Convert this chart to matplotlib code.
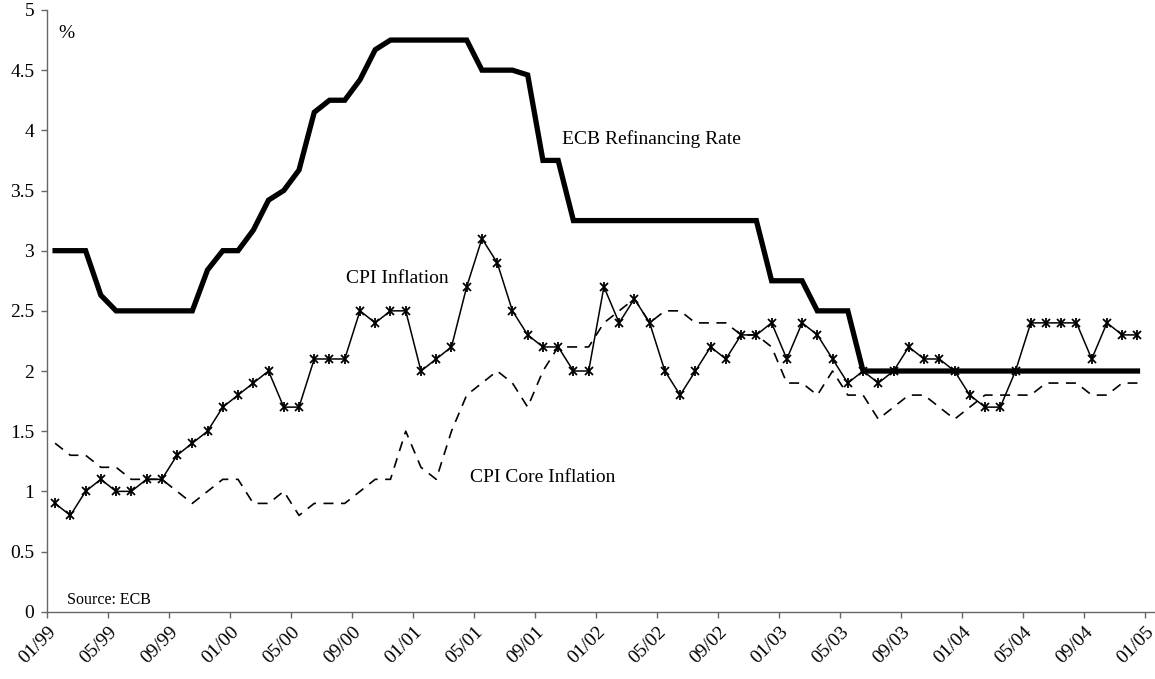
import numpy as np
import matplotlib
matplotlib.use("Agg")
import matplotlib.pyplot as plt

plt.rcParams['font.family'] = ['Liberation Serif', 'DejaVu Serif']

# monthly data, Jan 1999 - Dec 2004
ecb_rate = [3.0, 3.0, 3.0, 2.63, 2.5, 2.5, 2.5, 2.5, 2.5, 2.5, 2.84, 3.0,
            3.0, 3.17, 3.42, 3.5, 3.67, 4.15, 4.25, 4.25, 4.42, 4.67, 4.75, 4.75,
            4.75, 4.75, 4.75, 4.75, 4.5, 4.5, 4.5, 4.46, 3.75, 3.75, 3.25, 3.25,
            3.25, 3.25, 3.25, 3.25, 3.25, 3.25, 3.25, 3.25, 3.25, 3.25, 3.25, 2.75,
            2.75, 2.75, 2.5, 2.5, 2.5, 2.0, 2.0, 2.0, 2.0, 2.0, 2.0, 2.0,
            2.0, 2.0, 2.0, 2.0, 2.0, 2.0, 2.0, 2.0, 2.0, 2.0, 2.0, 2.0]

cpi = [0.9, 0.8, 1.0, 1.1, 1.0, 1.0, 1.1, 1.1, 1.3, 1.4, 1.5, 1.7,
       1.8, 1.9, 2.0, 1.7, 1.7, 2.1, 2.1, 2.1, 2.5, 2.4, 2.5, 2.5,
       2.0, 2.1, 2.2, 2.7, 3.1, 2.9, 2.5, 2.3, 2.2, 2.2, 2.0, 2.0,
       2.7, 2.4, 2.6, 2.4, 2.0, 1.8, 2.0, 2.2, 2.1, 2.3, 2.3, 2.4,
       2.1, 2.4, 2.3, 2.1, 1.9, 2.0, 1.9, 2.0, 2.2, 2.1, 2.1, 2.0,
       1.8, 1.7, 1.7, 2.0, 2.4, 2.4, 2.4, 2.4, 2.1, 2.4, 2.3, 2.3]

cpi_core = [1.4, 1.3, 1.3, 1.2, 1.2, 1.1, 1.1, 1.1, 1.0, 0.9, 1.0, 1.1,
            1.1, 0.9, 0.9, 1.0, 0.8, 0.9, 0.9, 0.9, 1.0, 1.1, 1.1, 1.5,
            1.2, 1.1, 1.5, 1.8, 1.9, 2.0, 1.9, 1.7, 2.0, 2.2, 2.2, 2.2,
            2.4, 2.5, 2.6, 2.4, 2.5, 2.5, 2.4, 2.4, 2.4, 2.3, 2.3, 2.2,
            1.9, 1.9, 1.8, 2.0, 1.8, 1.8, 1.6, 1.7, 1.8, 1.8, 1.7, 1.6,
            1.7, 1.8, 1.8, 1.8, 1.8, 1.9, 1.9, 1.9, 1.8, 1.8, 1.9, 1.9]

tick_labels = ['01/99', '05/99', '09/99', '01/00', '05/00', '09/00', '01/01',
               '05/01', '09/01', '01/02', '05/02', '09/02', '01/03', '05/03',
               '09/03', '01/04', '05/04', '09/04', '01/05']
y_ticks = [0, 0.5, 1, 1.5, 2, 2.5, 3, 3.5, 4, 4.5, 5]
y_labels = ['0', '0.5', '1', '1.5', '2', '2.5', '3', '3.5', '4', '4.5', '5']

months = np.arange(len(cpi))

fig = plt.figure(figsize=(11.55, 6.79), dpi=100)
ax = fig.add_axes([0.0411, 0.0991, 0.9589, 0.8862])

ax.plot(months, cpi_core, color='black', linewidth=1.2, linestyle=(0, (6, 4.5)), zorder=2)
ax.plot(months, ecb_rate, color='black', linewidth=3.8, solid_joinstyle='miter', zorder=3)
ax.plot(months, cpi, color='black', linewidth=1.1, marker='x', markersize=6,
        markeredgewidth=1.3, zorder=4)
ax.plot(months, cpi, color='black', linestyle='none', marker='|', markersize=6.5,
        markeredgewidth=1.3, zorder=4)

ax.text(0.19, 4.765, '%', fontsize=14, ha='left', va='baseline')
ax.text(33.24, 3.886, 'ECB Refinancing Rate', fontsize=14, ha='left', va='baseline')
ax.text(19.09, 2.733, 'CPI Inflation', fontsize=14, ha='left', va='baseline')
ax.text(27.22, 1.075, 'CPI Core Inflation', fontsize=14, ha='left', va='baseline')
ax.text(0.76, 0.064, 'Source: ECB', fontsize=11.5, ha='left', va='baseline')

ax.set_xlim(-0.5, 72.15)
ax.set_ylim(0, 5)
ax.set_xticks(np.arange(len(tick_labels)) * 4 - 0.5)
ax.set_xticklabels(tick_labels, rotation=45, ha='right', va='top',
                   rotation_mode='anchor', fontsize=14)
ax.set_yticks(y_ticks)
ax.set_yticklabels(y_labels, fontsize=14)

for side in ['top', 'right']:
    ax.spines[side].set_visible(False)
for side in ['left', 'bottom']:
    ax.spines[side].set_color('#666666')
    ax.spines[side].set_linewidth(1.0)
ax.tick_params(axis='both', direction='out', color='#666666', length=4.5, width=1.0)
ax.tick_params(axis='y', pad=5)
ax.tick_params(axis='x', pad=4)

fig.savefig('out.png', dpi=100)
